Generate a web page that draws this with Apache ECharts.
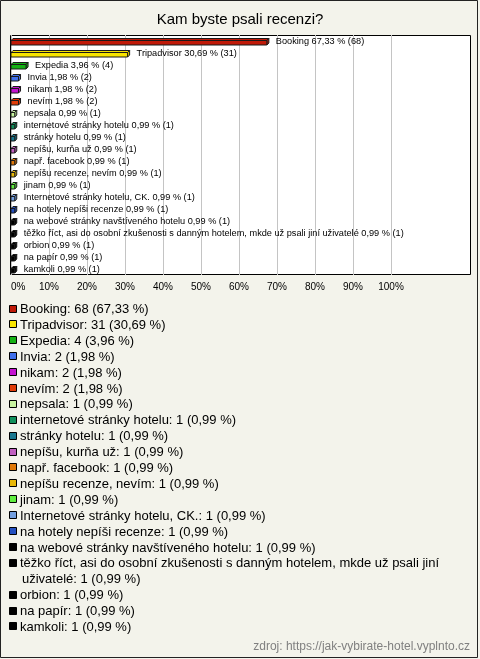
<!DOCTYPE html>
<html><head><meta charset="utf-8">
<script src="https://cdn.jsdelivr.net/npm/echarts@6/dist/echarts.min.js"></script>
<style>html,body{margin:0;padding:0;background:#f3f3eb}#c{width:480px;height:659px}</style>
</head><body><div id="c"></div>
<script>
const titleText = 'Kam byste psali recenzi?';
const sourceText = 'zdroj: https://jak-vybirate-hotel.vyplnto.cz';
const categories = ['Booking','Tripadvisor','Expedia','Invia','nikam','nevím','nepsala',
  'internetové stránky hotelu','stránky hotelu','nepíšu, kurňa už','např. facebook',
  'nepíšu recenze, nevím','jinam','Internetové stránky hotelu, CK.','na hotely nepíši recenze',
  'na webové stránky navštíveného hotelu',
  'těžko říct, asi do osobní zkušenosti s danným hotelem, mkde už psali jiní uživatelé',
  'orbion','na papír','kamkoli'];
const counts = [68,31,4,2,2,2,1,1,1,1,1,1,1,1,1,1,1,1,1,1];
const percents = [67.33,30.69,3.96,1.98,1.98,1.98,0.99,0.99,0.99,0.99,0.99,0.99,0.99,0.99,0.99,0.99,0.99,0.99,0.99,0.99];
const colors = ['#c01a08','#f8e400','#14b014','#4070ec','#c414d0','#e03c08','#c8f4a0',
  '#10905c','#1a7890','#c060c0','#e07808','#e8b808','#60ee40','#74a0e0','#2450c0',
  '#000000','#000000','#000000','#000000','#000000'];
const xTicks = [0,10,20,30,40,50,60,70,80,90,100];

const FONT = '"Liberation Sans", Arial, sans-serif';
const fmt = v => v.toFixed(2).replace('.', ',');

const chart = echarts.init(document.getElementById('c'), null, {renderer:'canvas'});

// legend built from arrays
const meas = document.createElement('canvas').getContext('2d');
meas.font = '13px ' + FONT;
function wrap(text, maxW){
  const words = text.split(' ');
  const lines = []; let cur = '';
  words.forEach(w => {
    const t = cur ? cur + ' ' + w : w;
    if (meas.measureText(t).width > maxW && cur) { lines.push(cur); cur = w; }
    else cur = t;
  });
  if (cur) lines.push(cur);
  return lines;
}
const graphics = [
  {type:'rect', z:-10, shape:{x:0.5,y:0.5,width:477,height:657}, style:{fill:'#f3f3eb', stroke:'#222', lineWidth:1}},
  {type:'rect', z:-9, shape:{x:10.5,y:35.5,width:460,height:239}, style:{fill:'#ffffff', stroke:'#000', lineWidth:1}}
];
let ly = 309.5; const step = 15.9;
categories.forEach((name,i) => {
  const lines = wrap(name + ': ' + counts[i] + ' (' + fmt(percents[i]) + ' %)', 448);
  graphics.push({type:'rect', shape:{x:9.5,y:Math.round(ly)-4.5,width:7,height:7},
    style:{fill:colors[i], stroke:'#000', lineWidth:1}});
  lines.forEach((ln,k) => {
    graphics.push({type:'text', x: k===0 ? 20 : 22, y: ly + k*step,
      style:{text:ln, fontSize:13, fontFamily:FONT, fill:'#000', verticalAlign:'middle'}});
  });
  ly += lines.length*step;
});
graphics.push({type:'text', x:470, y:647, style:{text:sourceText, fontSize:12, fontFamily:FONT,
  fill:'#808080', align:'right', verticalAlign:'middle'}});

const data = categories.map((c,i) => [percents[i], i]);

function renderItem(params, api){
  const idx = api.value(1), v = api.value(0);
  const p0 = api.coord([0, idx]);
  const p1 = api.coord([v, idx]);
  const x0 = p0[0], x1 = p1[0], cy = p0[1];
  const d = 2, yt = cy - 0.5, yb = cy + 4;
  const col = colors[idx];
  const st = {fill:col, stroke:'#1a1a1a', lineWidth:1};
  return {type:'group', children:[
    {type:'polygon', shape:{points:[[x0,yt],[x0+d,yt-d],[x1+d,yt-d],[x1,yt]]}, style:st},
    {type:'polygon', shape:{points:[[x1,yt],[x1+d,yt-d],[x1+d,yb-d],[x1,yb]]}, style:st},
    {type:'rect', shape:{x:x0,y:yt,width:x1-x0,height:yb-yt}, style:st},
    {type:'text', x:x1+d+7, y:cy+0.5, style:{text: categories[idx] + ' ' + fmt(percents[idx]) + ' % (' + counts[idx] + ')',
      fontSize:9.2, fontFamily:FONT, fill:'#000', verticalAlign:'middle'}}
  ]};
}

chart.setOption({
  backgroundColor:'#f3f3eb',
  animation:false,
  title:{text:titleText, left:'center', top:12, padding:0,
    textStyle:{fontSize:15, fontWeight:'normal', color:'#000', fontFamily:FONT}},
  grid:{left:11, top:35, width:380, height:240},
  xAxis:{type:'value', min:0, max:100, interval:10,
    axisLine:{show:false}, axisTick:{show:false},
    splitLine:{lineStyle:{color:'#c4c4c4', width:1}},
    axisLabel:{formatter: v => xTicks.includes(v) ? v + '%' : '', fontSize:10, fontFamily:FONT, color:'#000',
      margin:7, alignMinLabel:'left'}},
  yAxis:{type:'category', inverse:true, data:categories,
    axisLine:{show:false}, axisTick:{show:false}, axisLabel:{show:false}, splitLine:{show:false}},
  series:[{type:'custom', renderItem, data, clip:false, encode:{x:0, y:1}, z:5}],
  graphic: graphics
});
</script></body></html>
